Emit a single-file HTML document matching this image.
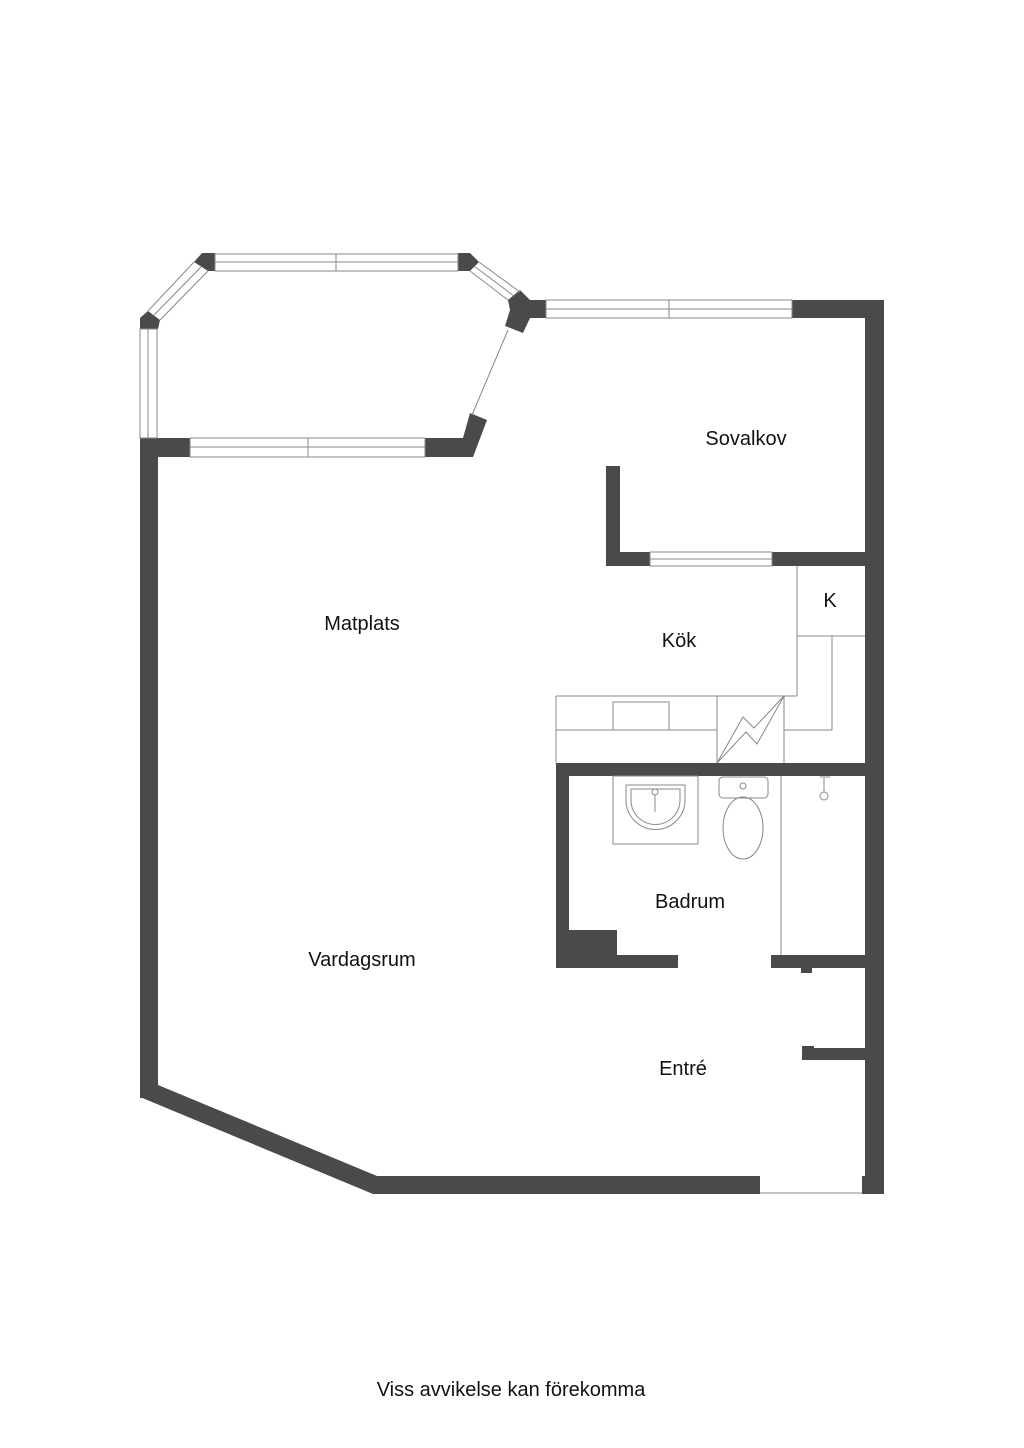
<!DOCTYPE html>
<html><head><meta charset="utf-8"><style>
html,body{margin:0;padding:0;background:#fff;}
svg{display:block}
text{font-family:"Liberation Sans",sans-serif;fill:#111;}
</style></head><body>
<svg width="1024" height="1448" viewBox="0 0 1024 1448" xmlns="http://www.w3.org/2000/svg">
<g fill="#4a4a4a" stroke="none">
<rect x="865" y="300" width="19" height="894"/>
<rect x="792" y="300" width="92" height="18"/>
<rect x="526" y="300" width="20" height="18"/>
<polygon points="508,300 520,290 532,302 530,318 523,333 505,326 510,310"/>
<polygon points="202,253 215,253 215,271 208,271 194,262"/>
<polygon points="458,253 470,253 479,262 470,271 458,271"/>
<polygon points="148,311 160,320 158,329 140,329 140,318"/>
<rect x="140" y="438" width="50" height="19"/>
<polygon points="425,438 463,438 470,413 487,420 473,457 425,457"/>
<rect x="140" y="438" width="18" height="660"/>
<polygon points="140,1097 140,1085 158,1085 377,1176 377,1194 373,1194"/>
<rect x="375" y="1176" width="385" height="18"/>
<rect x="862" y="1176" width="22" height="18"/>
<rect x="606" y="466" width="14" height="100"/>
<rect x="606" y="552" width="44" height="14"/>
<rect x="772" y="552" width="94" height="14"/>
<rect x="556" y="763" width="328" height="13"/>
<rect x="556" y="763" width="13" height="205"/>
<rect x="556" y="955" width="122" height="13"/>
<rect x="569" y="930" width="48" height="25"/>
<rect x="771" y="955" width="95" height="13"/>
<rect x="801" y="968" width="11" height="5"/>
<rect x="802" y="1048" width="64" height="12"/>
<rect x="802" y="1046" width="12" height="14"/>
</g>
<g fill="none" stroke="#888" stroke-width="1">
<rect x="546" y="300" width="246" height="18"/><line x1="546" y1="309" x2="792" y2="309"/><line x1="669" y1="300" x2="669" y2="318"/>
<rect x="215" y="254" width="243" height="17"/><line x1="215" y1="262" x2="458" y2="262"/><line x1="336" y1="254" x2="336" y2="271"/>
<rect x="190" y="438" width="235" height="19"/><line x1="190" y1="447" x2="425" y2="447"/><line x1="308" y1="438" x2="308" y2="457"/>
<rect x="140" y="329" width="17" height="109"/><line x1="148" y1="329" x2="148" y2="438"/>
<line x1="194" y1="262" x2="148" y2="311"/><line x1="208" y1="271" x2="160" y2="320"/><line x1="201" y1="267" x2="154" y2="315"/>
<line x1="479" y1="262" x2="520" y2="292"/><line x1="470" y1="271" x2="508" y2="300"/><line x1="474" y1="266" x2="514" y2="296"/>
<rect x="650" y="552" width="122" height="14"/><line x1="650" y1="559" x2="772" y2="559"/>
<line x1="508" y1="330" x2="472" y2="415"/>
<line x1="797" y1="566" x2="797" y2="696"/>
<line x1="797" y1="636" x2="865" y2="636"/>
<line x1="556" y1="696" x2="797" y2="696"/>
<line x1="556" y1="696" x2="556" y2="763"/>
<line x1="556" y1="730" x2="717" y2="730"/>
<line x1="717" y1="696" x2="717" y2="763"/>
<line x1="784" y1="696" x2="784" y2="763"/>
<line x1="784" y1="730" x2="832" y2="730"/>
<line x1="832" y1="636" x2="832" y2="730"/>
<rect x="613" y="702" width="56" height="28"/>
<polygon points="717,763 743,717 754,728 784,696 757,744 746,732"/>
<line x1="781" y1="776" x2="781" y2="955"/>
<rect x="613" y="776" width="85" height="68"/>
<path d="M626,785 H685 V800 A29,29 0 0 1 626,800 Z"/>
<path d="M631,789 H680 V800 A24,24 0 0 1 631,800 Z"/>
<circle cx="655" cy="792" r="3"/><line x1="655" y1="795" x2="655" y2="812"/>
<rect x="719" y="777" width="49" height="21" rx="4"/>
<circle cx="743" cy="786" r="3"/>
<ellipse cx="743" cy="828" rx="20" ry="31"/>
<line x1="820" y1="777" x2="830" y2="777"/><line x1="824" y1="778" x2="824" y2="792"/><circle cx="824" cy="796" r="4"/>
<line x1="760" y1="1193" x2="862" y2="1193"/>
</g>
<g font-size="20" text-anchor="middle">
<text x="746" y="445">Sovalkov</text>
<text x="362" y="630">Matplats</text>
<text x="679" y="647">Kök</text>
<text x="830" y="607">K</text>
<text x="690" y="908">Badrum</text>
<text x="362" y="966">Vardagsrum</text>
<text x="683" y="1075">Entré</text>
<text x="511" y="1396" font-size="20">Viss avvikelse kan förekomma</text>
</g>
</svg>
</body></html>
